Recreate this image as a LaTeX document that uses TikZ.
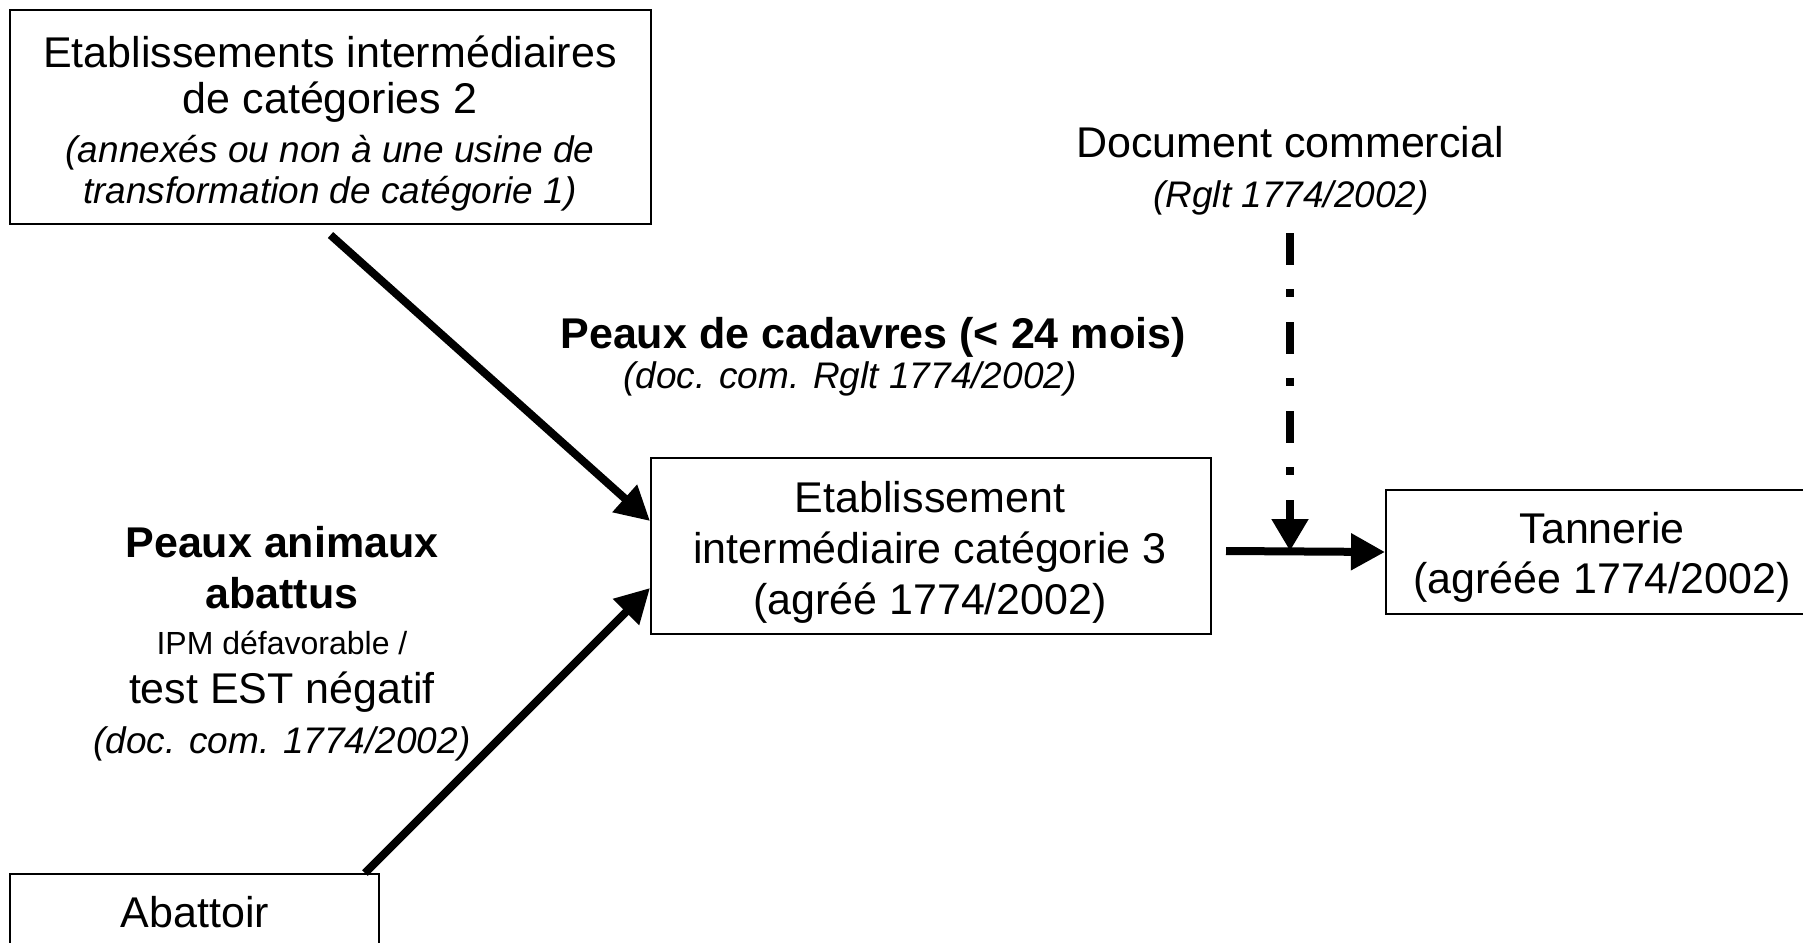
\documentclass[tikz,border=0pt]{standalone}
\usepackage{fontspec}
\setmainfont{Liberation Sans}
\usetikzlibrary{arrows.meta}
\begin{document}
\begin{tikzpicture}[x=0.5pt,y=-0.5pt,
  box/.style={draw, line width=1pt, inner sep=0pt, anchor=north west},
  txt/.style={anchor=base, inner sep=0pt, font=\fontsize{21.5pt}{25pt}\selectfont},
  itx/.style={anchor=base, inner sep=0pt, font=\fontsize{18.5pt}{22pt}\selectfont\itshape},
  sml/.style={anchor=base, inner sep=0pt, font=\fontsize{16pt}{19pt}\selectfont},
  bld/.style={anchor=base, inner sep=0pt, font=\fontsize{21.5pt}{25pt}\selectfont\bfseries},
  flow/.style={line width=4pt, -{Triangle[length=17pt,width=17.5pt]}},
  docflow/.style={line width=4pt, dash pattern=on 16pt off 12pt on 4pt off 12.5pt, -{Triangle[length=16pt,width=17.5pt]}}]
\useasboundingbox (0,0) rectangle (1803,942);
% boxes
\node[box, minimum width=320.5pt, minimum height=107pt] (top) at (9,9) {};
\node[box, minimum width=280pt, minimum height=88pt] (mid) at (650,457) {};
\node[box, minimum width=217pt, minimum height=62pt] (tan) at (1385,489) {};
\node[box, minimum width=184.5pt, minimum height=55pt] (abat) at (9,873) {};
% box texts
\node[txt] (top1) at (330,67) {Etablissements intermédiaires};
\node[txt] (top2) at (330,113) {de catégories 2};
\node[itx] (top3) at (330,162) {(annexés ou non à une usine de};
\node[itx] (top4) at (330,203) {transformation de catégorie 1)};
\node[txt] (mid1) at (930,512) {Etablissement};
\node[txt] (mid2) at (930,563) {intermédiaire catégorie 3};
\node[txt] (mid3) at (930,614) {(agréé 1774/2002)};
\node[txt] (tan1) at (1602,543) {Tannerie};
\node[txt] (tan2) at (1602,593) {(agréée 1774/2002)};
\node[txt] (abat1) at (195,927) {Abattoir};
% free labels
\node[txt] (doc1) at (1290,157) {Document commercial};
\node[itx] (doc2) at (1291,207) {(Rglt 1774/2002)};
\node[bld] (cad1) at (873,348) {Peaux de cadavres (< 24 mois)};
\node[itx] (cad2) at (850,388) {(doc. com. Rglt 1774/2002)};
\node[bld] (pa1) at (282,557) {Peaux animaux};
\node[bld] (pa2) at (282,608) {abattus};
\node[sml] (pa3) at (282,654) {IPM défavorable /};
\node[txt] (pa4) at (282,703) {test EST négatif};
\node[itx] (pa5) at (282,753) {(doc. com. 1774/2002)};
% connectors
\coordinate (hs) at (1226,551);
\coordinate (ds) at (1290,233);
\coordinate (dj) at (1290,551);
\draw[flow] ([yshift=-5pt]top.south) -- ([yshift=12.5pt]mid.west);
\draw[flow] ([xshift=-7.5pt]abat.north east) -- ([yshift=-21pt]mid.west);
\draw[flow] (hs) -- (tan.west);
\draw[docflow] (ds) -- (dj);
\end{tikzpicture}
\end{document}
